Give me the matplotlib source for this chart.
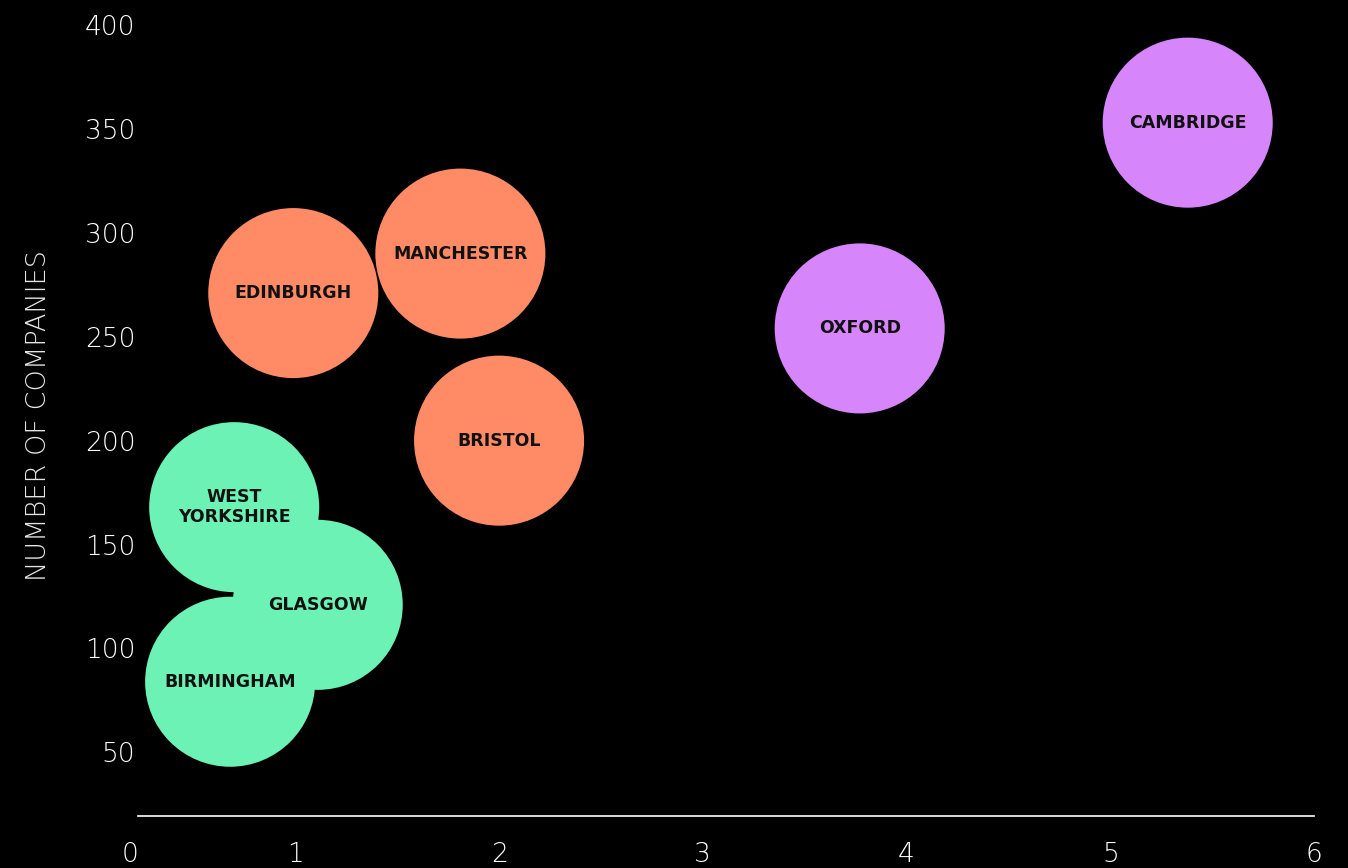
import matplotlib
matplotlib.use("Agg")
import matplotlib.pyplot as plt

# city clusters
cities = ["CAMBRIDGE", "OXFORD", "MANCHESTER", "EDINBURGH", "BRISTOL",
          "WEST\nYORKSHIRE", "GLASGOW", "BIRMINGHAM"]
x_vals = [5.38, 3.77, 1.81, 0.99, 2.0, 0.70, 1.11, 0.68]
companies = [353, 254, 290, 271, 200, 168, 121, 84]
groups = ["top", "top", "mid", "mid", "mid", "low", "low", "low"]

x_ticks = [0, 1, 2, 3, 4, 5, 6]
y_ticks = [50, 100, 150, 200, 250, 300, 350, 400]

palette = {"top": "#d685fb", "mid": "#ff8a66", "low": "#6cf2b4"}
bubble_size = 14990  # points^2, ~170px across

fig = plt.figure(figsize=(13.48, 8.68), dpi=100, facecolor="black")
ax = fig.add_axes([0.1024, 0.0599, 0.8724, 0.9233])
ax.set_facecolor("black")

ax.scatter(x_vals, companies, s=bubble_size,
           c=[palette[g] for g in groups], linewidths=0, zorder=2)

for name, x, y in zip(cities, x_vals, companies):
    ax.text(x, y, name, ha="center", va="center", color="#111111",
            fontsize=12.5, fontweight="bold", family="DejaVu Sans",
            linespacing=1.1, zorder=3)

ax.set_xlim(0.228, 6)
ax.set_ylim(19.4, 405)

for s in ["top", "right", "left"]:
    ax.spines[s].set_visible(False)
ax.spines["bottom"].set_color("white")
ax.spines["bottom"].set_linewidth(1.2)

# first x tick sits at the left edge of the plot area
ax.set_xticks([0.228] + x_ticks[1:])
ax.set_xticklabels([str(t) for t in x_ticks])
ax.get_xticklabels()[0].set_ha("right")
ax.set_yticks(y_ticks)
ax.tick_params(axis="both", length=0, colors="white", labelsize=19)
ax.tick_params(axis="x", pad=19)
ax.tick_params(axis="y", pad=2)
for lab in ax.get_xticklabels() + ax.get_yticklabels():
    lab.set_fontweight("light")

ax.set_ylabel("NUMBER OF COMPANIES", color="#e6e6e6", fontsize=19.5,
              fontweight="light", labelpad=24)

fig.savefig("out.png", dpi=100, facecolor="black")
